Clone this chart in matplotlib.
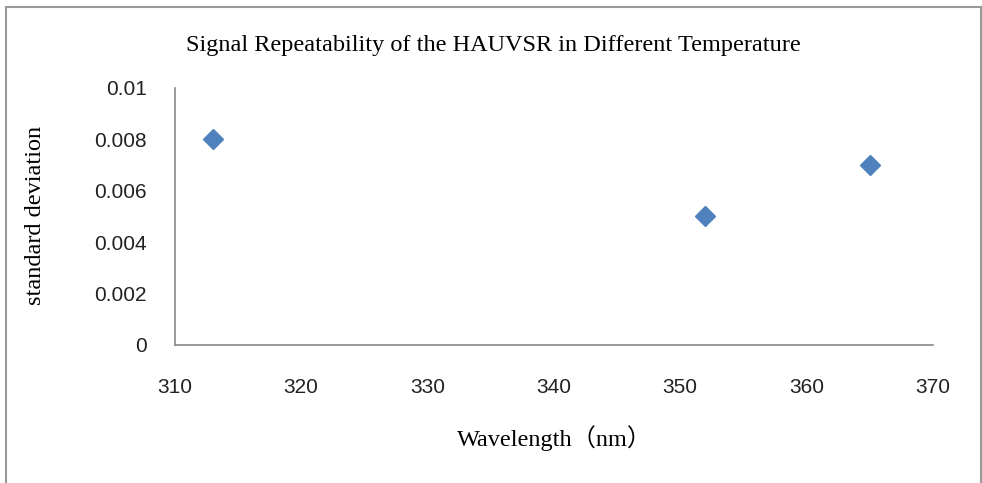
import matplotlib
matplotlib.use("Agg")
import matplotlib.pyplot as plt
from matplotlib.lines import Line2D

# data
wavelength = [313, 352, 365]
std_dev = [0.008, 0.005, 0.007]
x_ticks = [310, 320, 330, 340, 350, 360, 370]
y_ticks = [0, 0.002, 0.004, 0.006, 0.008, 0.01]
y_tick_labels = ["0", "0.002", "0.004", "0.006", "0.008", "0.01"]

fig = plt.figure(figsize=(9.82, 4.83), dpi=100)
ax = fig.add_axes([0.178, 0.286, 0.772, 0.532])

ax.plot(wavelength, std_dev, linestyle="none", marker="D",
        markersize=10, color="#4F81BD")

ax.set_xlim(310, 370)
ax.set_ylim(0, 0.01)
ax.set_xticks(x_ticks)
ax.set_yticks(y_ticks)
ax.set_yticklabels(y_tick_labels)

for lab in ax.get_xticklabels() + ax.get_yticklabels():
    lab.set_family("Liberation Sans")
    lab.set_fontsize(15)
    lab.set_color("#222222")
ax.tick_params(axis="both", length=0)
ax.tick_params(axis="x", pad=24)
ax.tick_params(axis="y", pad=20)

for side in ["top", "right"]:
    ax.spines[side].set_visible(False)
for side in ["left", "bottom"]:
    ax.spines[side].set_color("#888888")
    ax.spines[side].set_linewidth(1.2)

serif = ["Liberation Serif", "Noto Sans CJK SC"]
fig.text(0.502, 0.905, "Signal Repeatability of the HAUVSR in Different Temperature",
         ha="center", va="center", family=serif, fontsize=17.5)
fig.text(0.565, 0.093, "Wavelength（nm）", ha="center", va="center",
         family=serif, fontsize=17.5)
fig.text(0.036, 0.553, "standard deviation", ha="center", va="center",
         rotation=90, family=serif, fontsize=17.5)

# chart frame (left, top, right)
frame_kw = dict(color="#999999", linewidth=1.5, transform=fig.transFigure)
fig.add_artist(Line2D([0.006, 0.006], [0, 0.986], **frame_kw))
fig.add_artist(Line2D([0.006, 0.999], [0.986, 0.986], **frame_kw))
fig.add_artist(Line2D([0.999, 0.999], [0, 0.986], **frame_kw))

fig.savefig("out.png", dpi=100)
